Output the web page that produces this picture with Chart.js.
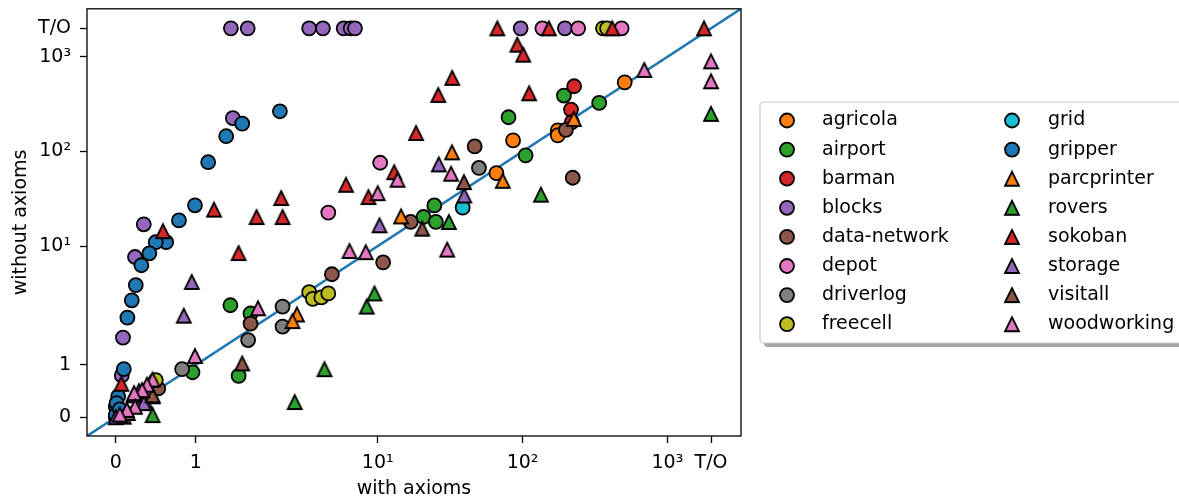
<!DOCTYPE html>
<html>
<head>
<meta charset="utf-8">
<script src="https://cdn.jsdelivr.net/npm/chart.js@4.4.1/dist/chart.umd.min.js"></script>
<style>
  html, body { margin: 0; padding: 0; background: #fff; }
</style>
</head>
<body>
<canvas id="myChart" width="1179" height="497"></canvas>
<script>
// timeout runs are drawn on the "T/O" line
const TO = 2000;
const tickValues = [0, 1, 10, 100, 1000, TO];
const tickLabels = ['0', '1', '10¹', '10²', '10³', 'T/O'];
const axisRange = [-0.36, 3220];

// [with axioms, without axioms]
const agricola = [[507, 538], [175, 167], [175, 148], [86, 131], [66, 59]];
const airport = [[193, 390], [338, 326], [80, 230], [105, 91], [24.6, 26.9], [20.7, 20.3], [25.2, 18],
  [0.96, 0.86], [1.55, 3.18], [2.0, 2.71], [1.72, 0.79]];
const barman = [[227, 489], [216, 277], [219, 204]];
const blocks = [[1.56, TO], [1.93, TO], [4.2, TO], [5.0, TO], [6.5, TO], [7.1, TO], [7.5, TO], [97, TO], [196, TO],
  [1.6, 225], [0.35, 17], [0.24, 8.1], [0.09, 1.7], [0.075, 0.8], [0, 0.2]];
const dataNetwork = [[46.7, 113], [199, 169], [222, 52.8], [16.9, 18], [10.9, 7.3], [5.6, 5.8], [2.0, 2.23], [0.53, 0.55]];
const depot = [[137, TO], [242, TO], [483, TO], [10.4, 76], [5.35, 22.6]];
const driverlog = [[50, 67], [3.0, 3.1], [3.0, 2.1], [1.94, 1.62], [0.83, 0.92], [0, 0]];
const freecell = [[359, TO], [383, TO], [4.2, 4.1], [4.4, 3.6], [4.9, 3.7], [5.35, 4.0], [0.5, 0.71]];
const grid = [[38.6, 25.5]];
const gripper = [[2.9, 266], [1.8, 197], [1.47, 145], [1.17, 77], [0.99, 27], [0.79, 18.7], [0.63, 11], [0.5, 11],
  [0.42, 8.7], [0.32, 6.9], [0.25, 4.7], [0.2, 3.5], [0.145, 2.5], [0.1, 0.92], [0.03, 0.4], [0.01, 0.27],
  [0, 0.04], [0.05, 0.15]];
const parcprinter = [[226, 221], [32.6, 98], [14.5, 20.6], [73, 49], [3.6, 2.66], [3.4, 2.34]];
const rovers = [[TO, 250], [134, 35], [31, 18], [9.6, 4.0], [8.7, 3.1], [5.1, 0.92], [3.5, 0.29], [0.46, 0.04], [0.46, 0.4]];
const sokoban = [[67, TO], [152, TO], [416, TO], [1790, TO], [92, 1345], [101, 1055], [111, 412], [32.7, 600],
  [26.2, 396], [18.4, 157], [13, 60.5], [6.7, 44.5], [8.9, 33], [2.95, 32.2], [3.0, 20.3], [2.16, 20.3],
  [1.72, 8.75], [1.26, 24.3], [0.59, 14.4], [0.07, 0.64]];
const storage = [[26.4, 73], [39.6, 34.3], [10.3, 16.6], [0.95, 5.0], [0.85, 2.6], [0.37, 0.3], [0.22, 0.42],
  [0.35, 0.27], [0, 0], [0.29, 0.5]];
const visitall = [[39.4, 47.5], [20.3, 15.3], [1.8, 1.03], [0.46, 0.42], [0.1, 0.01], [0.15, 0.08]];
const woodworking = [[TO, 897], [TO, 552], [692, 728], [32.1, 58.2], [13.7, 50.3], [10, 36.3], [30.2, 9.35],
  [7.0, 9.1], [8.6, 8.9], [0.99, 1.19], [2.2, 3.0], [0.46, 0.72], [0.39, 0.62], [0.33, 0.52], [0.23, 0.46],
  [0.24, 0.2], [0.14, 0.14], [0.05, 0.05]];

const seriesNames = ['agricola', 'airport', 'barman', 'blocks', 'data-network', 'depot', 'driverlog', 'freecell',
  'grid', 'gripper', 'parcprinter', 'rovers', 'sokoban', 'storage', 'visitall', 'woodworking'];
const seriesData = [agricola, airport, barman, blocks, dataNetwork, depot, driverlog, freecell,
  grid, gripper, parcprinter, rovers, sokoban, storage, visitall, woodworking];
const seriesColors = ['#ff7f0e', '#2ca02c', '#d62728', '#9467bd', '#8c564b', '#e377c2', '#7f7f7f', '#bcbd22',
  '#17becf', '#1f77b4', '#ff7f0e', '#2ca02c', '#d62728', '#9467bd', '#8c564b', '#e377c2'];
const seriesShapes = ['o', 'o', 'o', 'o', 'o', 'o', 'o', 'o', 'o', 'o', '^', '^', '^', '^', '^', '^'];

// axis warp: linear below 1, stretched log between 1 and 10, plain log above
const K1 = 0.552, K10 = 1.808;
function warp(v) {
  if (v <= 1) return v * K1;
  if (v <= 10) return K1 + (K10 - K1) * Math.log10(v);
  return K10 + Math.log10(v / 10);
}
function unwarp(p) {
  if (p <= K1) return p / K1;
  if (p <= K10) return Math.pow(10, (p - K1) / (K10 - K1));
  return 10 * Math.pow(10, p - K10);
}

class WarpScale extends Chart.Scale {
  static id = 'warp';
  static defaults = {};
  determineDataLimits() {
    this.min = this.options.min;
    this.max = this.options.max;
  }
  buildTicks() {
    return tickValues.map(v => ({ value: v }));
  }
  getLabelForValue(v) {
    return String(v);
  }
  configure() {
    super.configure();
    this._lo = warp(this.min);
    this._hi = warp(this.max);
  }
  getPixelForValue(v) {
    return this.getPixelForDecimal((warp(v) - this._lo) / (this._hi - this._lo));
  }
  getValueForPixel(px) {
    return unwarp(this._lo + this.getDecimalForPixel(px) * (this._hi - this._lo));
  }
}
Chart.register(WarpScale);

const MARK_EDGE = 1.8;

function triangleMarker(fill) {
  const c = document.createElement('canvas');
  c.width = 20; c.height = 20;
  const g = c.getContext('2d');
  g.beginPath();
  g.moveTo(10, 3); g.lineTo(3, 17); g.lineTo(17, 17); g.closePath();
  g.fillStyle = fill; g.fill();
  g.lineWidth = MARK_EDGE; g.strokeStyle = '#000'; g.lineJoin = 'miter';
  g.stroke();
  return c;
}

const datasets = seriesNames.map((name, i) => ({
  label: name,
  data: seriesData[i].map(([x, y]) => ({ x, y })),
  pointStyle: seriesShapes[i] === '^' ? triangleMarker(seriesColors[i]) : 'circle',
  backgroundColor: seriesColors[i],
  borderColor: '#000',
  pointBorderWidth: MARK_EDGE,
  pointRadius: 7,
  order: -i
}));

datasets.push({
  label: 'diag',
  data: [{ x: axisRange[0], y: axisRange[0] }, { x: axisRange[1], y: axisRange[1] }],
  showLine: true,
  borderColor: '#1f77b4',
  borderWidth: 2.6,
  pointRadius: 0,
  clip: 0,
  order: 100
});

const framePlugin = {
  id: 'frame',
  afterDatasetsDraw(chart) {
    const { ctx, chartArea: a } = chart;
    ctx.save();
    ctx.strokeStyle = '#000';
    ctx.lineWidth = 1.3;
    ctx.strokeRect(a.left, a.top, a.right - a.left, a.bottom - a.top);
    ctx.restore();
  }
};

function roundRect(ctx, x, y, w, h, r) {
  ctx.beginPath();
  ctx.moveTo(x + r, y);
  ctx.arcTo(x + w, y, x + w, y + h, r);
  ctx.arcTo(x + w, y + h, x, y + h, r);
  ctx.arcTo(x, y + h, x, y, r);
  ctx.arcTo(x, y, x + w, y, r);
  ctx.closePath();
}

const legendPlugin = {
  id: 'boxLegend',
  afterDraw(chart) {
    const ctx = chart.ctx;
    const box = { x: 760, y: 102, w: 440, h: 241 };
    ctx.save();
    ctx.fillStyle = 'rgba(0,0,0,0.35)';
    roundRect(ctx, box.x + 4, box.y + 4, box.w, box.h, 4);
    ctx.fill();
    ctx.fillStyle = '#fff';
    ctx.strokeStyle = '#c8c8c8';
    ctx.lineWidth = 1.2;
    roundRect(ctx, box.x, box.y, box.w, box.h, 4);
    ctx.fill();
    ctx.stroke();

    const cols = [{ m: 787, t: 822 }, { m: 1012, t: 1048 }];
    ctx.font = "19px 'DejaVu Sans'";
    ctx.textBaseline = 'middle';
    chart.data.datasets.slice(0, seriesNames.length).forEach((ds, i) => {
      const col = cols[Math.floor(i / 8)];
      const y = 120.5 + (i % 8) * 29.1;
      ctx.fillStyle = ds.backgroundColor;
      ctx.strokeStyle = '#000';
      ctx.lineWidth = MARK_EDGE;
      Chart.helpers.drawPoint(ctx, { pointStyle: ds.pointStyle, rotation: 0, radius: 7, borderWidth: MARK_EDGE }, col.m, y);
      ctx.fillStyle = '#000';
      ctx.fillText(ds.label, col.t, y);
    });
    ctx.restore();
  }
};

Chart.defaults.font.family = "'DejaVu Sans', sans-serif";
Chart.defaults.font.size = 19;
Chart.defaults.color = '#000';

function axisOptions(title, pos) {
  return {
    type: 'warp',
    position: pos,
    min: axisRange[0],
    max: axisRange[1],
    border: { display: false },
    grid: { drawOnChartArea: false, drawTicks: true, tickLength: 7, tickColor: '#000', tickWidth: 1.3 },
    ticks: {
      autoSkip: false,
      maxRotation: 0,
      padding: pos === 'left' ? 9 : 9,
      color: '#000',
      callback: (value, index) => tickLabels[index]
    },
    title: {
      display: true,
      text: title,
      color: '#000',
      font: { size: 19 },
      padding: pos === 'left' ? { top: 10, bottom: 0 } : { top: 0, bottom: -3 }
    },
    afterFit: pos === 'left'
      ? (s) => { s.width = 87; s.paddingTop = 0; s.paddingBottom = 0; }
      : (s) => { s.height = 61; s.paddingLeft = 0; s.paddingRight = 0; }
  };
}

new Chart(document.getElementById('myChart').getContext('2d'), {
  type: 'scatter',
  data: { datasets: datasets },
  options: {
    responsive: false,
    animation: false,
    events: [],
    layout: { padding: { left: 0, top: 8, right: 438, bottom: 0 } },
    plugins: { legend: { display: false }, tooltip: { enabled: false } },
    scales: {
      x: axisOptions('with axioms', 'bottom'),
      y: axisOptions('without axioms', 'left')
    }
  },
  plugins: [framePlugin, legendPlugin]
});
</script>
</body>
</html>
